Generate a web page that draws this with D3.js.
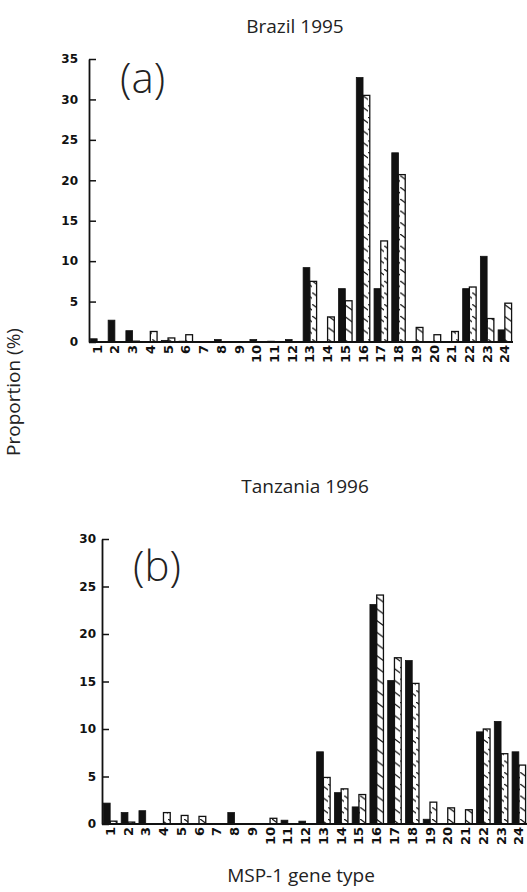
<!DOCTYPE html>
<html>
<head>
    <meta charset="utf-8">
    <style>
        body { margin: 0; background: white; }
        svg { display: block; }
        .title { font-family: 'Open Sans', sans-serif; font-size: 19px; fill: #222; }
        .tick text { font-family: 'DejaVu Sans', sans-serif; font-size: 12px; font-weight: bold; fill: #111; }
        .panel { font-family: 'Open Sans', sans-serif; font-weight: 300; font-size: 42px; fill: #222; }
    </style>
</head>
<body>
    <svg width="527" height="892"></svg>

<script src="https://d3js.org/d3.v7.min.js"></script>
<script>
    // gene types on the x axis
    let genes = ["1","2","3","4","5","6","7","8","9","10","11","12",
                 "13","14","15","16","17","18","19","20","21","22","23","24"];

    // Brazil 1995 (black = first series, hatched = second series)
    let brazilBlack = [0.4,2.7,1.4,0,0.2,0.1,0,0.3,0,0.3,0.1,0.3,9.2,0,6.6,32.7,6.6,23.4,0,0,0,6.6,10.6,1.5];
    let brazilHatch = [0,0,0.1,1.3,0.5,0.9,0,0,0,0,0,0,7.5,3.1,5.1,30.5,12.5,20.7,1.8,0.9,1.3,6.8,2.9,4.8];

    // Tanzania 1996
    let tanzBlack = [2.2,1.2,1.4,0,0,0,0,1.2,0,0,0.4,0.3,7.6,3.3,1.8,23.1,15.1,17.2,0.5,0,0,9.7,10.8,7.6];
    let tanzHatch = [0.3,0.2,0,1.2,0.9,0.8,0,0,0,0.6,0,0,4.9,3.7,3.1,24.1,17.5,14.8,2.3,1.7,1.5,10.0,7.4,6.2];

    let brazilTicks = [0,5,10,15,20,25,30,35];
    let tanzTicks = [0,5,10,15,20,25,30];

    let svg = d3.select("svg");

    // hatch pattern for the second series
    let defs = svg.append("defs");
    defs.append("pattern")
        .attr("id", "hatch")
        .attr("patternUnits", "userSpaceOnUse")
        .attr("width", 8)
        .attr("height", 11.7)
        .append("path")
        .attr("d", "M-1,-0.8 L9,6.5")
        .style("stroke", "#111")
        .style("stroke-width", 1.2);

    function drawPanel(opt) {
        let g = svg.append("g");

        let x = d3.scaleBand()
            .domain(genes)
            .range([opt.left, opt.right])
            .paddingInner(0.24)
            .paddingOuter(0.08);

        let y = d3.scaleLinear()
            .domain([0, opt.max])
            .range([opt.bottom, opt.top]);

        let half = x.bandwidth() / 2;

        g.selectAll(".black")
            .data(genes)
            .join("rect")
            .filter((d, i) => opt.black[i] > 0)
            .attr("x", d => x(d))
            .attr("y", (d) => y(opt.black[genes.indexOf(d)]))
            .attr("width", half)
            .attr("height", (d) => opt.bottom - y(opt.black[genes.indexOf(d)]))
            .style("fill", "#111")
            .style("stroke", "#111")
            .style("stroke-width", 0.8);

        g.selectAll(".hatch")
            .data(genes)
            .join("rect")
            .filter((d, i) => opt.hatch[i] > 0)
            .attr("x", d => x(d) + half)
            .attr("y", (d) => y(opt.hatch[genes.indexOf(d)]))
            .attr("width", half)
            .attr("height", (d) => opt.bottom - y(opt.hatch[genes.indexOf(d)]))
            .style("fill", "url(#hatch)")
            .style("stroke", "#111")
            .style("stroke-width", 1.3);

        // y axis, ticks pointing inward
        let yAxis = g.append("g")
            .attr("transform", `translate(${opt.left},0)`)
            .call(d3.axisLeft(y).tickValues(opt.ticks).tickSizeInner(-7).tickSizeOuter(0).tickPadding(opt.pad));
        yAxis.select(".domain").style("stroke", "#111").style("stroke-width", 1.8);
        yAxis.selectAll(".tick line").style("stroke", "#111").style("stroke-width", 1.5);

        // x axis with vertical labels
        let xAxis = g.append("g")
            .attr("transform", `translate(0,${opt.bottom})`)
            .call(d3.axisBottom(x).tickSize(0).tickSizeOuter(0));
        xAxis.select(".domain")
            .attr("d", `M${opt.left},0H${opt.right}`)
            .style("stroke", "#111").style("stroke-width", 1.8);
        xAxis.selectAll(".tick text")
            .attr("transform", "rotate(-90)")
            .attr("x", -3)
            .attr("y", 0)
            .attr("dy", "0.35em")
            .style("text-anchor", "end")
            .style("font-size", "13px");

        svg.append("text")
            .attr("class", "title")
            .attr("x", opt.titleX)
            .attr("y", opt.titleY)
            .attr("text-anchor", "middle")
            .text(opt.title);

        svg.append("text")
            .attr("class", "panel")
            .attr("x", opt.labelX)
            .attr("y", opt.labelY)
            .text(opt.label);
    }

    drawPanel({
        left: 89, right: 513, top: 59, bottom: 342, max: 35,
        ticks: brazilTicks, black: brazilBlack, hatch: brazilHatch, pad: 11,
        title: "Brazil 1995", titleX: 295, titleY: 33,
        label: "(a)", labelX: 120, labelY: 93
    });

    drawPanel({
        left: 102, right: 527, top: 539, bottom: 824, max: 30,
        ticks: tanzTicks, black: tanzBlack, hatch: tanzHatch, pad: 6,
        title: "Tanzania 1996", titleX: 305, titleY: 493,
        label: "(b)", labelX: 133, labelY: 581
    });

    // shared axis titles
    svg.append("text")
        .attr("class", "title")
        .attr("transform", "translate(20,392) rotate(-90)")
        .attr("text-anchor", "middle")
        .text("Proportion (%)");

    svg.append("text")
        .attr("class", "title")
        .attr("x", 301)
        .attr("y", 882)
        .attr("text-anchor", "middle")
        .text("MSP-1 gene type");
</script>
</body>
</html>
